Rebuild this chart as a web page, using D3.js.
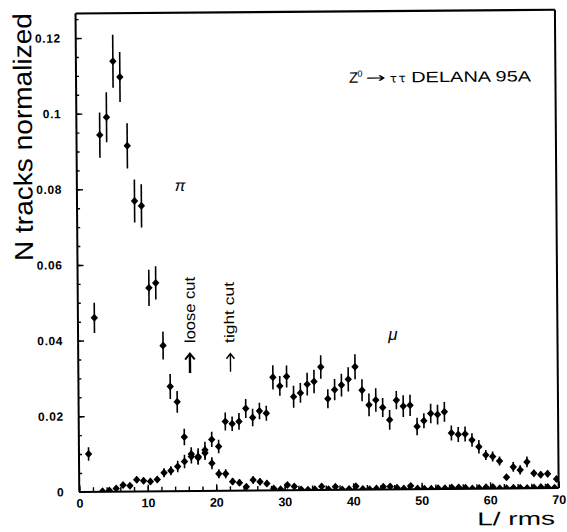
<!DOCTYPE html>
<html>
<head>
<meta charset="utf-8">
<script src="https://cdn.jsdelivr.net/npm/d3@7/dist/d3.min.js"></script>
<style>
  html, body { margin: 0; padding: 0; background: #fff; }
  svg { display: block; }
  text { font-family: "Liberation Sans", Arial, Helvetica, sans-serif; fill: #000; }
</style>
</head>
<body>
<script>
// Track-length distributions, L/rms, for pions and muons from Z0 -> tau tau (DELANA 95A)

// pion sample: bin centre, normalised count, error
const pionL = [1.4, 2.4, 3.4, 4.4, 5.4, 6.4, 7.4, 8.4, 9.4, 10.4, 11.4, 12.4, 13.4, 14.4, 15.4,
  16.4, 17.4, 18.4, 19.4, 20.4, 21.4, 22.4, 23.4, 24.4, 25.4, 26.4, 27.4, 28.4, 29.4, 30.4,
  31.4, 32.4, 33.4, 34.4, 35.4, 36.4, 37.4, 38.4, 39.4, 40.4, 41.4, 42.4, 43.4, 44.4, 45.4,
  46.4, 47.4, 48.4, 49.4, 50.4, 51.4, 52.4, 53.4, 54.4, 55.4, 56.4, 57.4, 58.4, 59.4, 60.4,
  61.4, 62.4, 63.4, 64.4, 65.4, 66.4, 67.4, 68.4, 69.4];
const pionN = [0.0100, 0.0460, 0.0943, 0.0990, 0.1138, 0.1096, 0.0914, 0.0768, 0.0755, 0.0538,
  0.0551, 0.0385, 0.0277, 0.0236, 0.0143, 0.0098, 0.0088, 0.0100, 0.0073, 0.0045,
  0.0045, 0.0024, 0.0021, 0.0010, 0.0028, 0.0023, 0.0018, 0.0005, 0.0003, 0.0014,
  0.0010, 0.0002, 0.0001, 0.0002, 0.0009, 0.0002, 0.0008, 0.0001, 0.0002, 0.0009,
  0.0002, 0.0001, 0.0003, 0.0007, 0.0008, 0.0004, 0.0002, 0.0009, 0.0002, 0.0001,
  0.0001, 0.0002, 0.0002, 0.0004, 0.0004, 0.0003, 0.0001, 0.0002, 0.0004, 0.0004,
  0.0001, 0.0001, 0.0002, 0.0002, 0.0001, 0.0002, 0.0003, 0.0003, 0.0001];
const pionErr = [0.0018, 0.0040, 0.0060, 0.0066, 0.0070, 0.0066, 0.0060, 0.0057, 0.0057, 0.0048,
  0.0044, 0.0037, 0.0033, 0.0029, 0.0022, 0.0018, 0.0017, 0.0018, 0.0016, 0.0012,
  0.0012, 0.0009, 0.0009, 0.0006, 0.0010, 0.0009, 0.0008, 0.0004, 0.0004, 0.0004,
  0.0004, 0.0004, 0.0004, 0.0004, 0.0004, 0.0004, 0.0004, 0.0004, 0.0004, 0.0004,
  0.0004, 0.0004, 0.0004, 0.0004, 0.0004, 0.0004, 0.0004, 0.0004, 0.0004, 0.0004,
  0.0004, 0.0004, 0.0004, 0.0004, 0.0004, 0.0004, 0.0004, 0.0004, 0.0004, 0.0004,
  0.0004, 0.0004, 0.0004, 0.0004, 0.0004, 0.0004, 0.0004, 0.0004, 0.0004];

// muon sample
const muonL = [3.4, 4.4, 5.4, 6.4, 7.4, 8.4, 9.4, 10.4, 11.4, 12.4, 13.4, 14.4, 15.4, 16.4, 17.4,
  18.4, 19.4, 20.4, 21.4, 22.4, 23.4, 24.4, 25.4, 26.4, 27.4, 28.4, 29.4, 30.4, 31.4, 32.4,
  33.4, 34.4, 35.4, 36.4, 37.4, 38.4, 39.4, 40.4, 41.4, 42.4, 43.4, 44.4, 45.4, 46.4, 47.4,
  48.4, 49.4, 50.4, 51.4, 52.4, 53.4, 54.4, 55.4, 56.4, 57.4, 58.4, 59.4, 60.4, 61.4, 62.4,
  63.4, 64.4, 65.4, 66.4, 67.4, 68.4, 69.7];
const muonN = [0.0001, 0.0003, 0.0008, 0.0017, 0.0015, 0.0031, 0.0028, 0.0026, 0.0031, 0.0049,
  0.0054, 0.0065, 0.0078, 0.0091, 0.0091, 0.0108, 0.0136, 0.0117, 0.0183, 0.0177,
  0.0183, 0.0217, 0.0193, 0.0210, 0.0204, 0.0299, 0.0276, 0.0301, 0.0247, 0.0257,
  0.0280, 0.0287, 0.0325, 0.0241, 0.0265, 0.0277, 0.0292, 0.0325, 0.0263, 0.0224,
  0.0237, 0.0217, 0.0184, 0.0236, 0.0220, 0.0222, 0.0166, 0.0181, 0.0200, 0.0197,
  0.0204, 0.0148, 0.0144, 0.0145, 0.0129, 0.0111, 0.0089, 0.0085, 0.0073, 0.0030,
  0.0057, 0.0049, 0.0070, 0.0040, 0.0036, 0.0038, 0.0024];
const muonErr = [0.0002, 0.0002, 0.0003, 0.0004, 0.0004, 0.0008, 0.0008, 0.0008, 0.0008, 0.0012,
  0.0012, 0.0015, 0.0018, 0.0018, 0.0022, 0.0022, 0.0020, 0.0018, 0.0024, 0.0019,
  0.0022, 0.0025, 0.0023, 0.0022, 0.0020, 0.0032, 0.0026, 0.0029, 0.0029, 0.0026,
  0.0030, 0.0031, 0.0031, 0.0025, 0.0028, 0.0030, 0.0032, 0.0033, 0.0029, 0.0030,
  0.0031, 0.0025, 0.0026, 0.0024, 0.0029, 0.0028, 0.0023, 0.0020, 0.0026, 0.0026,
  0.0026, 0.0020, 0.0020, 0.0020, 0.0018, 0.0018, 0.0013, 0.0013, 0.0012, 0.0007,
  0.0013, 0.0012, 0.0014, 0.0009, 0.0009, 0.0009, 0.0007];

// axis ticks and their labels
const xMajor = [0, 10, 20, 30, 40, 50, 60, 70];
const xTickText = ["0", "10", "20", "30", "40", "50", "60", "70"];
const yMajor = [0, 0.02, 0.04, 0.06, 0.08, 0.1, 0.12];
const yTickText = ["0", "0.02", "0.04", "0.06", "0.08", "0.1", "0.12"];

const W = 567, H = 532;
const frameL = 77.4, frameR = 556.8, frameT = 11.6, frameB = 490;

const x = d3.scaleLinear().domain([0, 70]).range([frameL, frameR]);
const y = d3.scaleLinear().domain([0, 0.1265]).range([frameB, frameT]);

const svg = d3.select("body").append("svg")
  .attr("width", W).attr("height", H)
  .attr("viewBox", `0 0 ${W} ${H}`);
svg.append("rect").attr("width", W).attr("height", H).attr("fill", "#fff");

// the whole sheet sits with a slight anticlockwise tilt
const g = svg.append("g").attr("transform", "rotate(-0.45 318 252)");

g.append("clipPath").attr("id", "plotClip")
  .append("rect").attr("x", frameL).attr("y", frameT)
  .attr("width", frameR - frameL).attr("height", frameB - frameT);

// ---- axes -------------------------------------------------------------
const xMinor = d3.range(0, 70.01, 2);
const yMinor = d3.range(0, 0.1251, 0.005);

const noDomain = s => s.select(".domain").remove();

// inward tick marks along the bottom
g.append("g").attr("transform", `translate(0,${frameB})`)
  .call(d3.axisTop(x).tickValues(xMinor).tickSize(4.5).tickFormat(""))
  .call(noDomain);
g.append("g").attr("transform", `translate(0,${frameB})`)
  .call(d3.axisTop(x).tickValues(xMajor).tickSize(6.5).tickFormat(""))
  .call(noDomain);
// bottom labels
g.append("g").attr("transform", `translate(0,${frameB})`)
  .call(d3.axisBottom(x).tickValues(xMajor).tickSize(0).tickPadding(7)
    .tickFormat((d, i) => xTickText[i]))
  .call(noDomain)
  .call(s => s.selectAll("text")
    .style("font-family", "'Liberation Sans', Arial, sans-serif")
    .style("font-size", "12.5px").style("font-weight", "bold")
    .attr("fill", "#000"));

// inward tick marks along the left
g.append("g").attr("transform", `translate(${frameL},0)`)
  .call(d3.axisRight(y).tickValues(yMinor).tickSize(3).tickFormat(""))
  .call(noDomain);
g.append("g").attr("transform", `translate(${frameL},0)`)
  .call(d3.axisRight(y).tickValues(yMajor).tickSize(6).tickFormat(""))
  .call(noDomain);
g.append("g").attr("transform", `translate(${frameL},0)`)
  .call(d3.axisLeft(y).tickValues(yMajor).tickSize(0).tickPadding(15)
    .tickFormat((d, i) => yTickText[i]))
  .call(noDomain)
  .call(s => s.selectAll("text")
    .style("font-family", "'Liberation Sans', Arial, sans-serif")
    .style("font-size", "12px").style("font-weight", "bold")
    .style("letter-spacing", "0.6px")
    .attr("fill", "#000"));

g.selectAll(".tick line").attr("stroke", "#000").attr("stroke-width", 1.4);

// frame
const frame = g.append("g").attr("stroke", "#000").attr("fill", "none");
frame.append("line").attr("x1", frameL).attr("x2", frameR).attr("y1", frameT).attr("y2", frameT).attr("stroke-width", 2.2);
frame.append("line").attr("x1", frameR).attr("x2", frameR).attr("y1", frameT).attr("y2", frameB).attr("stroke-width", 2);
frame.append("line").attr("x1", frameL).attr("x2", frameL).attr("y1", frameT).attr("y2", frameB).attr("stroke-width", 2);
frame.append("line").attr("x1", frameL).attr("x2", frameR).attr("y1", frameB).attr("y2", frameB).attr("stroke-width", 2);

// ---- data points with error bars --------------------------------------
const pion = pionL.map((l, i) => ({ l, n: pionN[i], e: pionErr[i] }));
const muon = muonL.map((l, i) => ({ l, n: muonN[i], e: muonErr[i] }));

const hw = 3.7, hh = 4.0;
const diamond = `M0,${-hh}L${hw},0L0,${hh}L${-hw},0Z`;

const plot = g.append("g").attr("clip-path", "url(#plotClip)");

function drawSeries(data, cls) {
  const s = plot.append("g").attr("class", cls);
  s.selectAll("line.err").data(data).join("line")
    .attr("class", "err")
    .attr("x1", d => x(d.l)).attr("x2", d => x(d.l))
    .attr("y1", d => y(d.n - d.e)).attr("y2", d => y(d.n + d.e))
    .attr("stroke", "#000").attr("stroke-width", 1.6);
  s.selectAll("path.pt").data(data).join("path")
    .attr("class", "pt")
    .attr("d", diamond)
    .attr("transform", d => `translate(${x(d.l)},${y(d.n)})`)
    .attr("fill", "#000");
}
drawSeries(muon, "muon");
drawSeries(pion, "pion");

// ---- labels ------------------------------------------------------------
g.append("text")
  .attr("transform", "translate(32.9,134.8) rotate(-90)")
  .attr("text-anchor", "middle")
  .attr("textLength", 248).attr("lengthAdjust", "spacingAndGlyphs")
  .style("font-size", "26px")
  .text("N tracks normalized");

g.append("text")
  .attr("x", 475).attr("y", 526.5)
  .attr("textLength", 78).attr("lengthAdjust", "spacingAndGlyphs")
  .style("font-size", "18.5px")
  .text("L/ rms");

// process / data-set label
const title = g.append("text").attr("y", 83).style("font-size", "15px");
title.append("tspan").attr("x", 350.3).text("Z");
title.append("tspan").attr("x", 359).attr("dy", -6).style("font-size", "9px").text("0");
title.append("tspan").attr("x", 367).attr("dy", 6)
  .attr("textLength", 20).attr("lengthAdjust", "spacingAndGlyphs")
  .style("font-family", "'DejaVu Sans', sans-serif").style("font-size", "14px").text("→");
title.append("tspan").attr("x", 391)
  .attr("textLength", 16).attr("lengthAdjust", "spacing")
  .style("font-family", "'DejaVu Sans', sans-serif").style("font-size", "12px").text("ττ");
title.append("tspan").attr("x", 412.5)
  .attr("textLength", 120).attr("lengthAdjust", "spacingAndGlyphs")
  .text("DELANA 95A");

g.append("text").attr("x", 180.5).attr("y", 190)
  .attr("text-anchor", "middle")
  .style("font-size", "16px").style("font-style", "italic")
  .text("π");
g.append("text").attr("x", 392.3).attr("y", 340.5)
  .attr("text-anchor", "middle")
  .style("font-size", "17px").style("font-style", "italic")
  .text("μ");

// cut positions
g.append("text")
  .attr("transform", "translate(194.5,342) rotate(-90)")
  .attr("textLength", 66).attr("lengthAdjust", "spacingAndGlyphs")
  .style("font-size", "15px")
  .text("loose cut");
g.append("text")
  .attr("transform", "translate(233.5,342.3) rotate(-90)")
  .attr("textLength", 61).attr("lengthAdjust", "spacingAndGlyphs")
  .style("font-size", "14px")
  .text("tight cut");

const arrows = g.append("g").attr("fill", "none").attr("stroke", "#000");
arrows.append("line").attr("x1", 189.1).attr("x2", 189.1).attr("y1", 372).attr("y2", 353.5).attr("stroke-width", 2.4);
arrows.append("path").attr("d", "M184.3,358.5L189.1,352.5L193.9,358.5").attr("stroke-width", 2);
arrows.append("line").attr("x1", 229.6).attr("x2", 229.6).attr("y1", 371).attr("y2", 353.5).attr("stroke-width", 1.4);
arrows.append("path").attr("d", "M225.6,358L229.6,353L233.6,358").attr("stroke-width", 1.5);
</script>
</body>
</html>
